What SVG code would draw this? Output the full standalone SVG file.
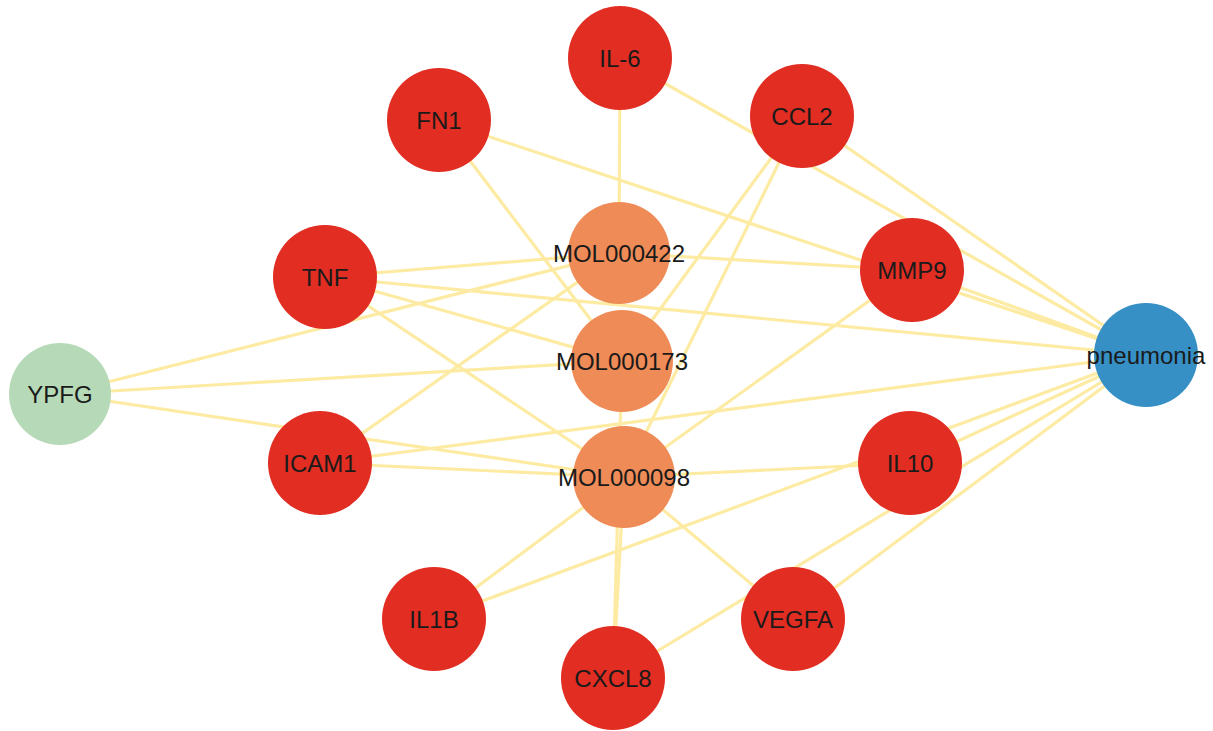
<svg xmlns="http://www.w3.org/2000/svg" width="1213" height="731" viewBox="0 0 1213 731">
<style>
.e{stroke:#FDEBA3;stroke-width:3.2;fill:none}
.t{fill:#E12D22}
.m{fill:#EF8B57}
.d{fill:#3790C5}
.h{fill:#B6DAB8}
text{font-family:"Liberation Sans",Arial,sans-serif;font-size:24px;fill:#1a1a1a;text-anchor:middle;dominant-baseline:central}
</style>
<rect width="1213" height="731" fill="#fff"/>
<g id="edges">
<line class="e" x1="60" y1="394" x2="619" y2="253"/>
<line class="e" x1="60" y1="394" x2="622" y2="361"/>
<line class="e" x1="60" y1="394" x2="624" y2="477"/>
<line class="e" x1="620" y1="58" x2="619" y2="253"/>
<line class="e" x1="325" y1="277" x2="619" y2="253"/>
<line class="e" x1="320" y1="463" x2="619" y2="253"/>
<line class="e" x1="912" y1="270" x2="619" y2="253"/>
<line class="e" x1="439" y1="120" x2="622" y2="361"/>
<line class="e" x1="325" y1="277" x2="622" y2="361"/>
<line class="e" x1="802" y1="116" x2="622" y2="361"/>
<line class="e" x1="613" y1="678" x2="622" y2="361"/>
<line class="e" x1="325" y1="277" x2="624" y2="477"/>
<line class="e" x1="320" y1="463" x2="624" y2="477"/>
<line class="e" x1="802" y1="116" x2="624" y2="477"/>
<line class="e" x1="912" y1="270" x2="624" y2="477"/>
<line class="e" x1="910" y1="463" x2="624" y2="477"/>
<line class="e" x1="434" y1="619" x2="624" y2="477"/>
<line class="e" x1="793" y1="619" x2="624" y2="477"/>
<line class="e" x1="613" y1="678" x2="624" y2="477"/>
<line class="e" x1="620" y1="58" x2="1146" y2="355"/>
<line class="e" x1="802" y1="116" x2="1146" y2="355"/>
<line class="e" x1="439" y1="120" x2="1146" y2="355"/>
<line class="e" x1="912" y1="270" x2="1146" y2="355"/>
<line class="e" x1="325" y1="277" x2="1146" y2="355"/>
<line class="e" x1="320" y1="463" x2="1146" y2="355"/>
<line class="e" x1="910" y1="463" x2="1146" y2="355"/>
<line class="e" x1="434" y1="619" x2="1146" y2="355"/>
<line class="e" x1="613" y1="678" x2="1146" y2="355"/>
<line class="e" x1="793" y1="619" x2="1146" y2="355"/>
</g>
<g id="YPFG"><circle class="h" cx="60" cy="394" r="51"/><text x="60" y="394">YPFG</text></g>
<g id="pneumonia"><circle class="d" cx="1146" cy="355" r="52"/><text x="1146" y="355">pneumonia</text></g>
<g id="IL-6"><circle class="t" cx="620" cy="58" r="52"/><text x="620" y="58">IL-6</text></g>
<g id="FN1"><circle class="t" cx="439" cy="120" r="52"/><text x="439" y="120">FN1</text></g>
<g id="CCL2"><circle class="t" cx="802" cy="116" r="52"/><text x="802" y="116">CCL2</text></g>
<g id="TNF"><circle class="t" cx="325" cy="277" r="52"/><text x="325" y="277">TNF</text></g>
<g id="MMP9"><circle class="t" cx="912" cy="270" r="52"/><text x="912" y="270">MMP9</text></g>
<g id="ICAM1"><circle class="t" cx="320" cy="463" r="52"/><text x="320" y="463">ICAM1</text></g>
<g id="IL10"><circle class="t" cx="910" cy="463" r="52"/><text x="910" y="463">IL10</text></g>
<g id="IL1B"><circle class="t" cx="434" cy="619" r="52"/><text x="434" y="619">IL1B</text></g>
<g id="VEGFA"><circle class="t" cx="793" cy="619" r="52"/><text x="793" y="619">VEGFA</text></g>
<g id="CXCL8"><circle class="t" cx="613" cy="678" r="52"/><text x="613" y="678">CXCL8</text></g>
<g id="MOL000422"><circle class="m" cx="619" cy="253" r="51"/><text x="619" y="253">MOL000422</text></g>
<g id="MOL000173"><circle class="m" cx="622" cy="361" r="51"/><text x="622" y="361">MOL000173</text></g>
<g id="MOL000098"><circle class="m" cx="624" cy="477" r="51"/><text x="624" y="477">MOL000098</text></g>
</svg>
